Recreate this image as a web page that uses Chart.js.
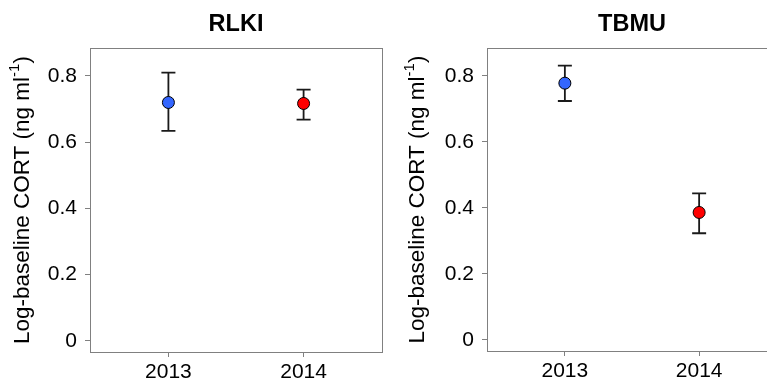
<!DOCTYPE html>
<html>
<head>
<meta charset="utf-8">
<script src="https://cdn.jsdelivr.net/npm/chart.js@4/dist/chart.umd.min.js"></script>
<style>
  html, body { margin: 0; padding: 0; background: #fff; overflow: hidden; width: 767px; height: 387px; }
  canvas { position: absolute; top: 0; }
  #rlki { left: 0; }
  #tbmu { left: 383px; }
</style>
</head>
<body>
<canvas id="rlki" width="383" height="387"></canvas>
<canvas id="tbmu" width="395" height="387"></canvas>
<script>
// Sampling years and the y-axis ticks shared by both panels
const years = ['2013', '2014'];
const yTickValues = [0, 0.2, 0.4, 0.6, 0.8];
const yTickLabels = ['0', '0.2', '0.4', '0.6', '0.8'];

// Black-legged kittiwake (RLKI): mean log-baseline CORT with error bar limits
const rlkiMean = [0.720, 0.717];
const rlkiLow  = [0.634, 0.668];
const rlkiHigh = [0.810, 0.759];

// Thick-billed murre (TBMU)
const tbmuMean = [0.778, 0.386];
const tbmuLow  = [0.724, 0.323];
const tbmuHigh = [0.831, 0.444];

// Marker fill per year
const yearColors = ['#3366ff', '#ff0000'];

const FONT = "'Liberation Sans', Arial, Helvetica, sans-serif";
const AXIS_GREY = '#808080';

// Rectangular frame around the plotting region
const frameBox = {
  id: 'frameBox',
  beforeDatasetsDraw(chart) {
    const { ctx, chartArea: a } = chart;
    ctx.save();
    ctx.strokeStyle = AXIS_GREY;
    ctx.lineWidth = 1;
    ctx.strokeRect(Math.round(a.left) + 0.5, Math.round(a.top) + 0.5,
                   Math.round(a.right - a.left), Math.round(a.bottom - a.top));
    ctx.restore();
  }
};

// Vertical error bars with caps, drawn beneath the markers
const errorBars = {
  id: 'errorBars',
  beforeDatasetsDraw(chart, args, opts) {
    const { ctx, scales: { x, y } } = chart;
    ctx.save();
    ctx.strokeStyle = '#1a1a1a';
    ctx.lineWidth = 1.8;
    opts.low.forEach((lo, i) => {
      const px = x.getPixelForValue(i + 1);
      const yl = y.getPixelForValue(lo);
      const yh = y.getPixelForValue(opts.high[i]);
      const cap = 7;
      ctx.beginPath();
      ctx.moveTo(px, yl); ctx.lineTo(px, yh);
      ctx.moveTo(px - cap, yl); ctx.lineTo(px + cap, yl);
      ctx.moveTo(px - cap, yh); ctx.lineTo(px + cap, yh);
      ctx.stroke();
    });
    ctx.restore();
  }
};

// Rotated y-axis title with a superscript unit exponent
const yTitle = {
  id: 'yTitle',
  afterDraw(chart, args, opts) {
    const { ctx, chartArea: a } = chart;
    const main = 'Log-baseline CORT (ng ml';
    const sup = '-1';
    const tail = ')';
    const mainFont = `22.5px ${FONT}`;
    const supFont = `15px ${FONT}`;
    ctx.save();
    ctx.font = mainFont;
    const wMain = ctx.measureText(main).width;
    const wTail = ctx.measureText(tail).width;
    ctx.font = supFont;
    const wSup = ctx.measureText(sup).width;
    const total = wMain + wSup + wTail;
    ctx.translate(opts.x, (a.top + a.bottom) / 2);
    ctx.rotate(-Math.PI / 2);
    ctx.fillStyle = '#000';
    ctx.textBaseline = 'middle';
    ctx.textAlign = 'left';
    let cx = -total / 2;
    ctx.font = mainFont;
    ctx.fillText(main, cx, 0);
    cx += wMain;
    ctx.font = supFont;
    ctx.fillText(sup, cx, -8);
    cx += wSup;
    ctx.font = mainFont;
    ctx.fillText(tail, cx, 0);
    ctx.restore();
  }
};

function makePanel(id, title, mean, low, high, yAxisWidth, xAxisHeight, titleX) {
  return new Chart(document.getElementById(id), {
    type: 'scatter',
    data: {
      datasets: [{
        data: mean.map((v, i) => ({ x: i + 1, y: v })),
        pointRadius: 6,
        pointHoverRadius: 6,
        pointBackgroundColor: yearColors,
        pointBorderColor: '#000',
        pointBorderWidth: 1,
        showLine: false
      }]
    },
    options: {
      responsive: false,
      animation: false,
      devicePixelRatio: 1,
      layout: { autoPadding: false, padding: { left: 0, right: 1, top: 0, bottom: 0 } },
      scales: {
        x: {
          type: 'linear',
          min: 0.42,
          max: 2.58,
          afterBuildTicks: s => { s.ticks = years.map((_, i) => ({ value: i + 1 })); },
          afterFit: s => { s.height = xAxisHeight; },
          ticks: {
            autoSkip: false,
            maxRotation: 0,
            padding: 3,
            color: '#000',
            font: { family: FONT, size: 21 },
            callback: v => years[v - 1]
          },
          grid: { drawOnChartArea: false, drawTicks: true, tickLength: 5, color: AXIS_GREY },
          border: { display: true, color: AXIS_GREY }
        },
        y: {
          type: 'linear',
          min: -0.034,
          max: 0.884,
          afterBuildTicks: s => { s.ticks = yTickValues.map(v => ({ value: v })); },
          afterFit: s => { s.width = yAxisWidth; },
          ticks: {
            autoSkip: false,
            padding: 8,
            color: '#000',
            font: { family: FONT, size: 21 },
            callback: v => yTickLabels[yTickValues.indexOf(v)]
          },
          grid: { drawOnChartArea: false, drawTicks: true, tickLength: 5, color: AXIS_GREY },
          border: { display: true, color: AXIS_GREY }
        }
      },
      plugins: {
        legend: { display: false },
        tooltip: { enabled: false },
        title: {
          display: true,
          text: title,
          fullSize: false,
          color: '#000',
          font: { family: FONT, size: 23.5, weight: 'bold' },
          padding: { top: 10, bottom: 10 }
        },
        errorBars: { low: low, high: high },
        yTitle: { x: titleX }
      }
    },
    plugins: [frameBox, errorBars, yTitle]
  });
}

makePanel('rlki', 'RLKI', rlkiMean, rlkiLow, rlkiHigh, 90, 35, 23);
makePanel('tbmu', 'TBMU', tbmuMean, tbmuLow, tbmuHigh, 104, 36, 35);
</script>
</body>
</html>
